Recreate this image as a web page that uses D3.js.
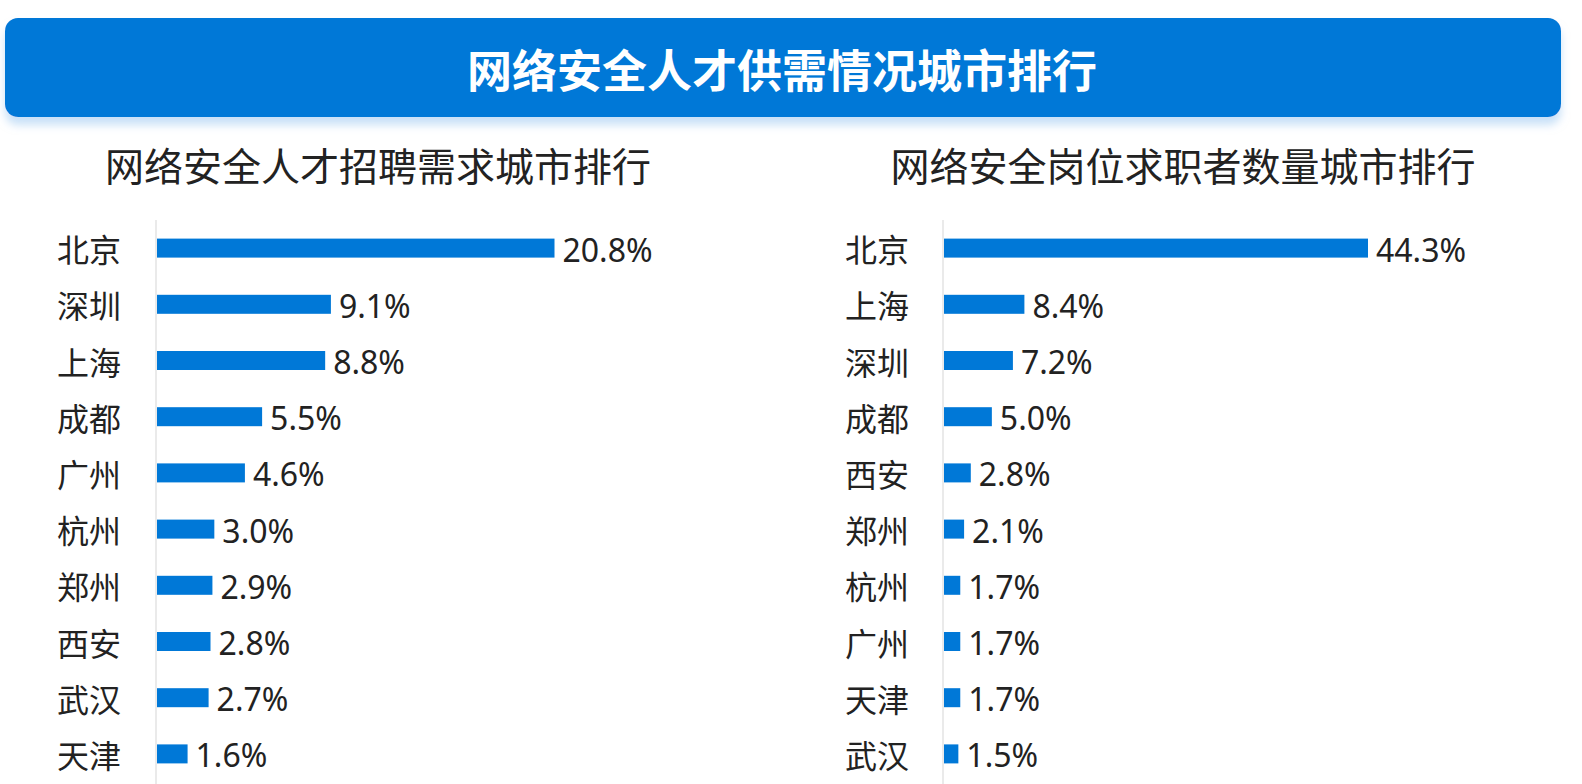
<!DOCTYPE html>
<html><head><meta charset="utf-8">
<script src="https://cdn.jsdelivr.net/npm/d3@7"></script>
<style>
html,body{margin:0;padding:0;background:#fff;}
svg{display:block;}
</style></head>
<body>
<svg id="c" width="1582" height="784"></svg>
<script>
const mainTitle = "网络安全人才供需情况城市排行";
const leftTitle = "网络安全人才招聘需求城市排行";
const rightTitle = "网络安全岗位求职者数量城市排行";
const leftCities = ["北京","深圳","上海","成都","广州","杭州","郑州","西安","武汉","天津"];
const leftValues = [20.8,9.1,8.8,5.5,4.6,3.0,2.9,2.8,2.7,1.6];
const rightCities = ["北京","上海","深圳","成都","西安","郑州","杭州","广州","天津","武汉"];
const rightValues = [44.3,8.4,7.2,5.0,2.8,2.1,1.7,1.7,1.7,1.5];

const svg = d3.select("#c");
const FONT = "'Noto Sans CJK SC','Noto Sans',sans-serif";
const NUMFONT = "'Noto Sans','Noto Sans CJK SC',sans-serif";
const BLUE = "#0078d7";

const defs = svg.append("defs");
const f = defs.append("filter").attr("id","sh").attr("x","-5%").attr("y","-20%").attr("width","110%").attr("height","160%");
f.append("feDropShadow").attr("dx",0).attr("dy",8).attr("stdDeviation",4).attr("flood-color","#9cc8f2").attr("flood-opacity",0.55);

svg.append("rect").attr("x",5).attr("y",18).attr("width",1556).attr("height",99)
  .attr("rx",13).attr("fill",BLUE).attr("filter","url(#sh)");
svg.append("text").attr("x",782).attr("y",68).attr("text-anchor","middle")
  .attr("dominant-baseline","central").attr("fill","#fff")
  .style("font-family",FONT).style("font-weight","bold").style("font-size","45px")
  .text(mainTitle);

function panel(cfg){
  const g = svg.append("g");
  g.append("text").attr("x",cfg.titleX).attr("y",164).attr("text-anchor","middle")
    .attr("dominant-baseline","central").attr("fill","#222")
    .style("font-family",FONT).style("font-size","39px").text(cfg.title);
  const y = d3.scaleBand().domain(cfg.cats).range([220, 220+56.2*10]).paddingInner(0.66).paddingOuter(0.33);
  const x = d3.scaleLinear().domain([0, cfg.max]).range([cfg.x0, cfg.x1]);
  g.append("line").attr("x1",cfg.x0).attr("x2",cfg.x0).attr("y1",220).attr("y2",784)
    .attr("stroke","#dcdcdc").attr("stroke-width",1.2);
  const data = cfg.cats.map((c,i)=>({c, v:cfg.vals[i]}));
  g.selectAll("rect.b").data(data).join("rect").attr("class","b")
    .attr("x",cfg.x0+1).attr("y",d=>y(d.c)+y.bandwidth()/2-9.5)
    .attr("width",d=>x(d.v)-cfg.x0).attr("height",19).attr("fill",BLUE);
  g.selectAll("text.v").data(data).join("text").attr("class","v")
    .attr("x",d=>x(d.v)+9).attr("y",d=>y(d.c)+y.bandwidth()/2+1)
    .attr("dominant-baseline","central").attr("fill","#222")
    .style("font-family",NUMFONT).style("font-size","32px").text(d=>d.v.toFixed(1)+"%");
  g.selectAll("text.c").data(data).join("text").attr("class","c")
    .attr("x",cfg.labelX).attr("y",d=>y(d.c)+y.bandwidth()/2)
    .attr("dominant-baseline","central").attr("fill","#222")
    .style("font-family",FONT).style("font-size","32px").text(d=>d.c);
}
panel({title:leftTitle, titleX:378, cats:leftCities, vals:leftValues, x0:156, x1:156+397.5, max:20.8, labelX:57});
panel({title:rightTitle, titleX:1183, cats:rightCities, vals:rightValues, x0:943, x1:943+424, max:44.3, labelX:845});
</script>
</body></html>
